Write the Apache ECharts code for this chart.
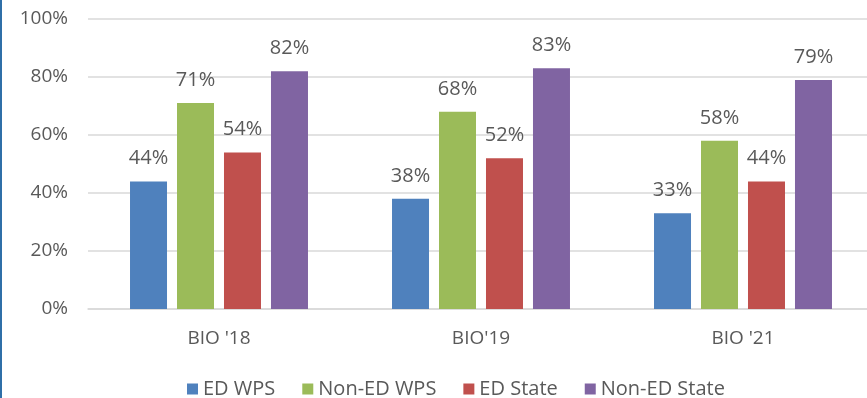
<!DOCTYPE html>
<html>
<head>
<meta charset="utf-8">
<script src="https://cdn.jsdelivr.net/npm/echarts@6/dist/echarts.min.js"></script>
<style>
  html, body { margin: 0; padding: 0; background: #fff; overflow: hidden; }
  /* the drawing surface is a little wider than the window so the plot area
     continues past the right edge */
  #chart { width: 880px; height: 398px; }
</style>
</head>
<body>
<div id="chart"></div>
<script>
// Survey years on the category axis
const categories = ["BIO '18", "BIO'19", "BIO '21"];

// Percentages per group
const edWps = [44, 38, 33];
const nonEdWps = [71, 68, 58];
const edState = [54, 52, 44];
const nonEdState = [82, 83, 79];

const seriesNames = ['ED WPS', 'Non-ED WPS', 'ED State', 'Non-ED State'];
const seriesColors = ['#4F81BD', '#9BBB59', '#C0504D', '#8064A2'];
const seriesValues = [edWps, nonEdWps, edState, nonEdState];

const FONT = 'Open Sans';
const TEXT = '#595959';

const chart = echarts.init(document.getElementById('chart'));

chart.setOption({
  animation: false,
  textStyle: { fontFamily: FONT },
  graphic: [{
    type: 'rect',
    left: 0, top: 0,
    shape: { width: 2, height: 398 },
    style: { fill: '#2F6FA8' },
    silent: true
  }],
  grid: { left: 88, width: 786, top: 19, height: 290, containLabel: false },
  legend: {
    data: seriesNames,
    top: 379,
    left: 187,
    padding: 0,
    itemWidth: 11,
    itemHeight: 11,
    itemGap: 27,
    icon: 'rect',
    textStyle: { fontFamily: FONT, fontSize: 20, color: TEXT }
  },
  xAxis: {
    type: 'category',
    data: categories,
    axisLine: { show: true, lineStyle: { color: '#D9D9D9', width: 1.5 } },
    axisTick: { show: false },
    axisLabel: { margin: 20, fontFamily: FONT, fontSize: 19, color: TEXT }
  },
  yAxis: {
    type: 'value',
    min: 0,
    max: 100,
    interval: 20,
    axisLine: { show: false },
    axisTick: { show: false },
    splitLine: { lineStyle: { color: '#D9D9D9', width: 1.5 } },
    axisLabel: {
      margin: 20,
      fontFamily: FONT, fontSize: 19, color: TEXT,
      formatter: v => v + '%'
    }
  },
  series: seriesNames.map((name, i) => ({
    name: name,
    type: 'bar',
    data: seriesValues[i],
    barWidth: 37,
    barGap: '27%',
    itemStyle: { color: seriesColors[i] },
    label: {
      show: true,
      position: 'top',
      distance: 13,
      fontFamily: FONT,
      fontSize: 20,
      color: TEXT,
      formatter: p => p.value + '%'
    }
  }))
});
</script>
</body>
</html>
